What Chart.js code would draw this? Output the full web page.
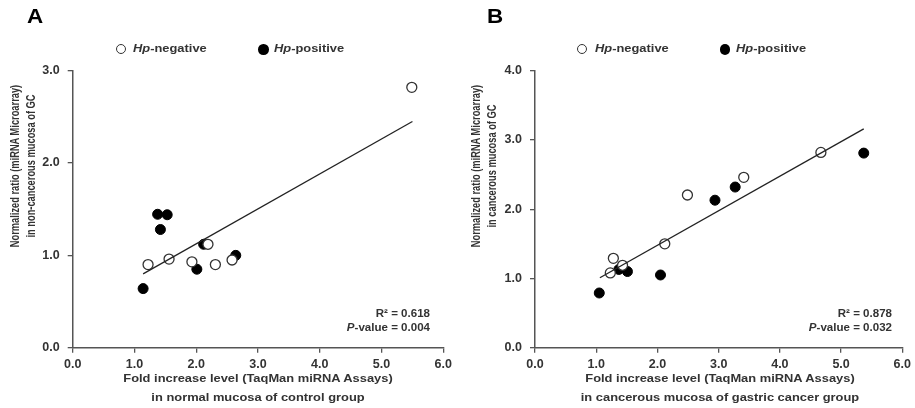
<!DOCTYPE html>
<html>
<head>
<meta charset="utf-8">
<script src="https://cdn.jsdelivr.net/npm/chart.js@4.4.0/dist/chart.umd.min.js"></script>
<style>
  body { margin: 0; background: #fff; }
  #wrap { position: relative; width: 915px; height: 408px; overflow: hidden; background: #fff; }
  canvas { position: absolute; top: 0; }
  .txt { position: absolute; white-space: nowrap; font-weight: bold; color: #333; line-height: 1;
         font-family: "Liberation Sans", Arial, sans-serif; }
  .dot { position: absolute; border-radius: 50%; box-sizing: border-box; }
</style>
</head>
<body>
<div id="wrap">
  <canvas id="chartA" width="457" height="408" style="left:0"></canvas>
  <canvas id="chartB" width="458" height="408" style="left:457px"></canvas>
</div>
<script>
// panel A - normal mucosa of control group
const aNegX = [1.22, 1.56, 1.93, 2.19, 2.31, 2.58, 5.49];
const aNegY = [0.90, 0.96, 0.93, 1.12, 0.90, 0.95, 2.82];
const aPosX = [1.375, 1.53, 1.42, 2.12, 2.01, 2.64, 1.14];
const aPosY = [1.445, 1.44, 1.28, 1.12, 0.85, 1.00, 0.64];
const aFitX = [1.14, 5.50];
const aFitY = [0.80, 2.45];

// panel B - cancerous mucosa of gastric cancer group
const bNegX = [2.49, 3.41, 2.12, 1.28, 1.23, 1.43, 4.67];
const bNegY = [2.205, 2.46, 1.50, 1.29, 1.08, 1.19, 2.82];
const bPosX = [2.94, 3.27, 1.37, 1.51, 2.05, 1.05, 5.37];
const bPosY = [2.13, 2.32, 1.13, 1.10, 1.05, 0.79, 2.81];
const bFitX = [1.06, 5.37];
const bFitY = [1.01, 3.16];

const xMin = 0, xMax = 6;
const aYMax = 3, bYMax = 4;

const family = '"Liberation Sans", Arial, sans-serif';
const wrap = document.getElementById('wrap');

function pts(xs, ys) {
  return xs.map((x, i) => ({ x: x, y: ys[i] }));
}

// рисуем один график рассеяния
function makeChart(id, negX, negY, posX, posY, fitX, fitY, yMax, yWidth, padRight) {
  const tickFont = { family: family, size: 12.5, weight: 'bold' };
  return new Chart(document.getElementById(id), {
    type: 'scatter',
    data: {
      datasets: [
        {
          data: pts(fitX, fitY), showLine: true, borderColor: '#222', borderWidth: 1.3,
          pointRadius: 0, fill: false, order: 0
        },
        {
          data: pts(negX, negY), backgroundColor: '#fff', borderColor: '#333',
          borderWidth: 1.3, pointRadius: 5, order: 1
        },
        {
          data: pts(posX, posY), backgroundColor: '#000', borderColor: '#000',
          borderWidth: 1, pointRadius: 5, order: 2
        }
      ]
    },
    options: {
      responsive: false,
      animation: false,
      devicePixelRatio: 1,
      layout: { padding: { left: 0, top: 70.7, right: padRight, bottom: 0 } },
      plugins: { legend: { display: false }, tooltip: { enabled: false } },
      scales: {
        x: {
          type: 'linear', min: xMin, max: xMax,
          ticks: { stepSize: 1, callback: v => v.toFixed(1), font: tickFont, color: '#333', padding: 4 },
          grid: { drawOnChartArea: false, tickLength: 5, color: '#555', lineWidth: 1.3 },
          border: { color: '#555', width: 1.5 },
          afterFit: s => { s.height = 60.3; }
        },
        y: {
          type: 'linear', min: 0, max: yMax,
          ticks: { stepSize: 1, callback: v => v.toFixed(1), font: tickFont, color: '#333', padding: 8 },
          grid: { drawOnChartArea: false, tickLength: 5, color: '#555', lineWidth: 1.3 },
          border: { color: '#555', width: 1.5 },
          afterFit: s => { s.width = yWidth; }
        }
      }
    }
  });
}

makeChart('chartA', aNegX, aNegY, aPosX, aPosY, aFitX, aFitY, aYMax, 72.7, 13.7);
makeChart('chartB', bNegX, bNegY, bPosX, bPosY, bFitX, bFitY, bYMax, 78, 10.7);

// подписи (текст в картинке слегка растянут по горизонтали)
function addText(html, x, y, o) {
  const d = document.createElement('div');
  d.className = 'txt';
  d.innerHTML = html;
  d.style.fontSize = (o.size || 10.5) + 'px';
  d.style.left = x + 'px';
  d.style.top = y + 'px';
  const anchor = o.anchor || 'center';
  const ox = anchor === 'left' ? '0%' : anchor === 'right' ? '100%' : '50%';
  const tx = anchor === 'left' ? '0%' : anchor === 'right' ? '-100%' : '-50%';
  d.style.transformOrigin = ox + ' 50%';
  d.style.transform = 'translate(' + tx + ',-50%) rotate(' + (o.rot || 0) + 'deg) scale(' + (o.sx || 1) + ',' + (o.sy || 1) + ')';
  if (o.color) d.style.color = o.color;
  wrap.appendChild(d);
}

function addDot(cx, cy, size, filled) {
  const d = document.createElement('div');
  d.className = 'dot';
  d.style.width = size + 'px';
  d.style.height = size + 'px';
  d.style.left = (cx - size / 2) + 'px';
  d.style.top = (cy - size / 2) + 'px';
  d.style.background = filled ? '#000' : '#fff';
  d.style.border = filled ? 'none' : '1.3px solid #333';
  wrap.appendChild(d);
}

const panels = [
  { letter: 'A', lx: 35.3, cx: 257.5, yt1: 16, yt2: 32, ann: 430, legend: [121, 133, 263.3, 274],
    yTitle: ['Normalized ratio (miRNA Microarray)', 'in non-cancerous mucosa of GC'],
    xTitle: ['Fold increase level (TaqMan miRNA Assays)', 'in normal mucosa of control group'],
    r2: '0.618', p: '0.004' },
  { letter: 'B', lx: 495.2, cx: 720, yt1: 477, yt2: 493, ann: 892, legend: [581.7, 595, 725, 736],
    yTitle: ['Normalized ratio (miRNA Microarray)', 'in cancerous mucosa of GC'],
    xTitle: ['Fold increase level (TaqMan miRNA Assays)', 'in cancerous mucosa of gastric cancer group'],
    r2: '0.878', p: '0.032' }
];

panels.forEach(p => {
  addText(p.letter, p.lx, 17, { size: 19.5, sx: 1.15, color: '#000' });
  addDot(p.legend[0], 49.3, 10, false);
  addText('<i>Hp</i>-negative', p.legend[1], 49.3, { anchor: 'left', size: 11.5, sx: 1.12 });
  addDot(p.legend[2], 49.3, 10.5, true);
  addText('<i>Hp</i>-positive', p.legend[3], 49.3, { anchor: 'left', size: 11.5, sx: 1.12 });
  addText(p.yTitle[0], p.yt1, 166, { rot: -90, size: 9.3, sy: 1.4 });
  addText(p.yTitle[1], p.yt2, 166, { rot: -90, size: 9.3, sy: 1.4 });
  addText(p.xTitle[0], p.cx, 379, { size: 11.5, sx: 1.12 });
  addText(p.xTitle[1], p.cx, 397.5, { size: 11.5, sx: 1.12 });
  addText('R² = ' + p.r2, p.ann, 313, { anchor: 'right', size: 10.5, sx: 1.1 });
  addText('<i>P</i>-value = ' + p.p, p.ann, 327, { anchor: 'right', size: 10.5, sx: 1.1 });
});
</script>
</body>
</html>
